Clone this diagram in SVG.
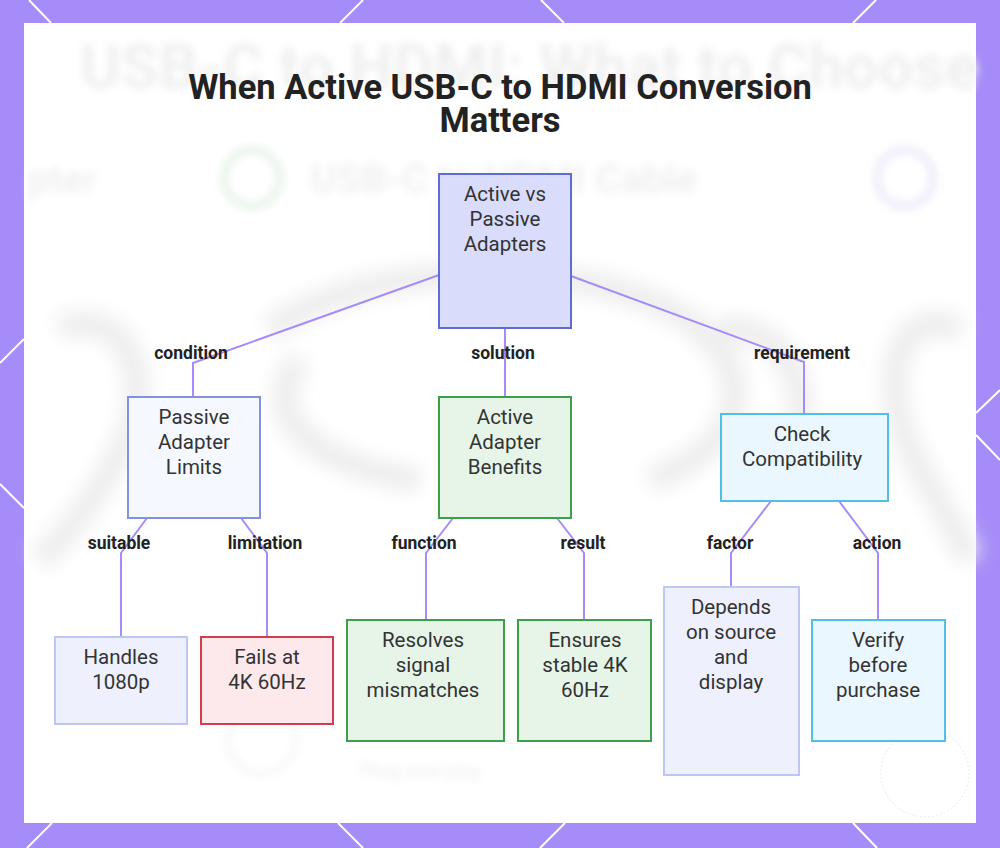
<svg xmlns="http://www.w3.org/2000/svg" width="1000" height="848" viewBox="0 0 1000 848">
  <defs>
    <filter id="blur" x="-20%" y="-20%" width="140%" height="140%">
      <feGaussianBlur stdDeviation="4"/>
    </filter>
    <filter id="blur2" x="-20%" y="-50%" width="140%" height="200%">
      <feGaussianBlur stdDeviation="9"/>
    </filter>
    <style>
      .hex { stroke: #ffffff; stroke-width: 2; fill: none; }
      .node rect { stroke-width: 2; }
      .ntext { font-family: Roboto, "Liberation Sans", sans-serif; font-size: 20.5px; fill: #333333; text-anchor: middle; }
      .elabel { font-family: Roboto, "Liberation Sans", sans-serif; font-size: 17.5px; font-weight: bold; fill: #222222; text-anchor: middle; }
      .edge { stroke: #a78bfa; stroke-width: 2; fill: none; }
      .title { font-family: Roboto, "Liberation Sans", sans-serif; font-size: 34.5px; font-weight: bold; fill: #222222; text-anchor: middle; }
      .primary rect { fill: #d9dcfb; stroke: #5f6dd3; }
      .soft rect { fill: #f6f8ff; stroke: #8193e0; }
      .green rect { fill: #e7f5e9; stroke: #3d9e4b; }
      .cyan rect { fill: #ebf7fe; stroke: #52bfe4; }
      .pale rect { fill: #eef1fd; stroke: #bec6f3; }
      .red rect { fill: #fde9ec; stroke: #d23d4c; }
    </style>
  </defs>

  <!-- border background -->
  <rect x="0" y="0" width="1000" height="848" fill="#a68cf8"/>
  <g id="border-pattern">
    <line class="hex" x1="29" y1="0" x2="51" y2="23"/>
    <line class="hex" x1="363" y1="0" x2="340" y2="23"/>
    <line class="hex" x1="541" y1="0" x2="564" y2="23"/>
    <line class="hex" x1="876" y1="0" x2="853" y2="23"/>
    <line class="hex" x1="0" y1="363" x2="24" y2="339"/>
    <line class="hex" x1="0" y1="484" x2="24" y2="508"/>
    <line class="hex" x1="976" y1="413" x2="1000" y2="390"/>
    <line class="hex" x1="976" y1="435" x2="1000" y2="460"/>
    <line class="hex" x1="52" y1="823" x2="27" y2="848"/>
    <line class="hex" x1="338" y1="823" x2="363" y2="848"/>
    <line class="hex" x1="565" y1="823" x2="540" y2="848"/>
    <line class="hex" x1="853" y1="823" x2="877" y2="848"/>
  </g>

  <!-- white panel -->
  <rect x="24" y="23" width="952" height="800" fill="#ffffff"/>

  <!-- faint blurred backdrop -->
  <g id="backdrop">
    <g filter="url(#blur2)" fill="none" stroke="#eeeeee" stroke-width="26">
      <path d="M60,330 C120,300 170,380 110,470 C80,520 60,540 40,560"/>
      <path d="M270,330 C380,250 620,260 700,330 C760,380 740,450 650,480"/>
      <path d="M300,360 C250,420 330,470 420,480"/>
      <path d="M960,330 C900,300 870,380 920,470 C950,520 960,540 970,560"/>
      <path d="M720,330 C800,320 820,420 780,470"/>
    </g>
    <g filter="url(#blur)" font-family="Roboto, 'Liberation Sans', sans-serif" font-weight="bold">
      <text x="80" y="88" font-size="62" fill="#efefef">USB-C to HDMI: What to Choose</text>
      <text x="28" y="193" font-size="38" fill="#f0f0f0">pter</text>
      <circle cx="252" cy="178" r="28" fill="none" stroke="#e8f3e8" stroke-width="8"/>
      <text x="310" y="193" font-size="40" fill="#f0f0f0">USB-C to HDMI Cable</text>
      <circle cx="905" cy="178" r="28" fill="none" stroke="#efebf9" stroke-width="8"/>
      <circle cx="262" cy="740" r="34" fill="none" stroke="#f7f7f7" stroke-width="6"/>
      <text x="360" y="778" font-size="20" fill="#f3f3f3">Plug and play</text>
    </g>
    <circle cx="925" cy="773" r="44" fill="none" stroke="#f2f2f2" stroke-width="1.5" stroke-dasharray="2 2"/>
  </g>

  <!-- title -->
  <g id="title">
    <text class="title" x="500" y="99">When Active USB-C to HDMI Conversion</text>
    <text class="title" x="500" y="132">Matters</text>
  </g>

  <!-- connectors -->
  <g id="connectors">
    <path class="edge" d="M439,275 L193,363 L193,397"/>
    <path class="edge" d="M505,328 L505,397"/>
    <path class="edge" d="M571,276 L804,362 L804,414"/>
    <path class="edge" d="M147,518 L121,553 L121,637"/>
    <path class="edge" d="M241,518 L267,553 L267,637"/>
    <path class="edge" d="M453,518 L426,553 L426,620"/>
    <path class="edge" d="M557,518 L584,553 L584,620"/>
    <path class="edge" d="M771,501 L731,553 L731,587"/>
    <path class="edge" d="M839,501 L878,553 L878,620"/>
    <text class="elabel" x="191" y="359">condition</text>
    <text class="elabel" x="503" y="359">solution</text>
    <text class="elabel" x="802" y="359">requirement</text>
    <text class="elabel" x="119" y="549">suitable</text>
    <text class="elabel" x="265" y="549">limitation</text>
    <text class="elabel" x="424" y="549">function</text>
    <text class="elabel" x="583" y="549">result</text>
    <text class="elabel" x="730" y="549">factor</text>
    <text class="elabel" x="877" y="549">action</text>
  </g>

  <!-- nodes -->
  <g id="node-root" class="node primary">
    <rect x="439" y="174" width="132" height="154"/>
    <text class="ntext" x="505" y="201">Active vs</text>
    <text class="ntext" x="505" y="226">Passive</text>
    <text class="ntext" x="505" y="251">Adapters</text>
  </g>
  <g id="node-passive" class="node soft">
    <rect x="128" y="397" width="132" height="121"/>
    <text class="ntext" x="194" y="424">Passive</text>
    <text class="ntext" x="194" y="449">Adapter</text>
    <text class="ntext" x="194" y="474">Limits</text>
  </g>
  <g id="node-active" class="node green">
    <rect x="439" y="397" width="132" height="121"/>
    <text class="ntext" x="505" y="424">Active</text>
    <text class="ntext" x="505" y="449">Adapter</text>
    <text class="ntext" x="505" y="474">Benefits</text>
  </g>
  <g id="node-check" class="node cyan">
    <rect x="721" y="414" width="167" height="87"/>
    <text class="ntext" x="802" y="441">Check</text>
    <text class="ntext" x="802" y="466">Compatibility</text>
  </g>
  <g id="node-handles" class="node pale">
    <rect x="55" y="637" width="132" height="87"/>
    <text class="ntext" x="121" y="664">Handles</text>
    <text class="ntext" x="121" y="689">1080p</text>
  </g>
  <g id="node-fails" class="node red">
    <rect x="201" y="637" width="132" height="87"/>
    <text class="ntext" x="267" y="664">Fails at</text>
    <text class="ntext" x="267" y="689">4K 60Hz</text>
  </g>
  <g id="node-resolves" class="node green">
    <rect x="347" y="620" width="157" height="121"/>
    <text class="ntext" x="423" y="647">Resolves</text>
    <text class="ntext" x="423" y="672">signal</text>
    <text class="ntext" x="423" y="697">mismatches</text>
  </g>
  <g id="node-ensures" class="node green">
    <rect x="518" y="620" width="133" height="121"/>
    <text class="ntext" x="585" y="647">Ensures</text>
    <text class="ntext" x="585" y="672">stable 4K</text>
    <text class="ntext" x="585" y="697">60Hz</text>
  </g>
  <g id="node-depends" class="node pale">
    <rect x="664" y="587" width="135" height="188"/>
    <text class="ntext" x="731" y="614">Depends</text>
    <text class="ntext" x="731" y="639">on source</text>
    <text class="ntext" x="731" y="664">and</text>
    <text class="ntext" x="731" y="689">display</text>
  </g>
  <g id="node-verify" class="node cyan">
    <rect x="812" y="620" width="133" height="121"/>
    <text class="ntext" x="878" y="647">Verify</text>
    <text class="ntext" x="878" y="672">before</text>
    <text class="ntext" x="878" y="697">purchase</text>
  </g>
</svg>
